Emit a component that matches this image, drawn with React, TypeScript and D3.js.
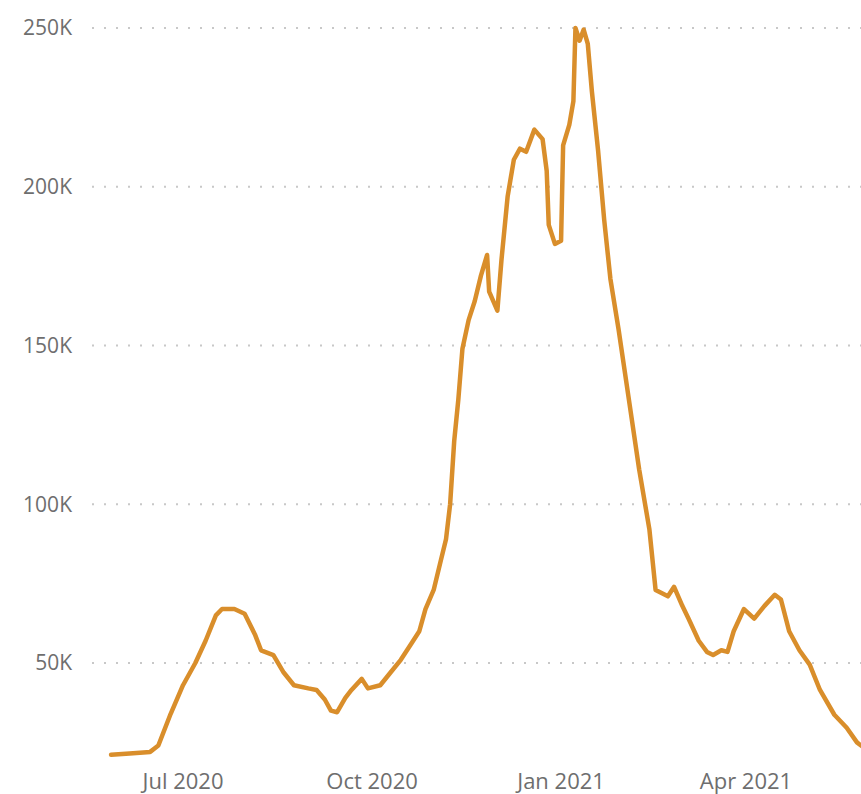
import React from "react";
import * as d3 from "d3";

const dates: string[] = [
  "2020-05-27","2020-06-05","2020-06-15","2020-06-19","2020-06-25","2020-07-01","2020-07-07","2020-07-12",
  "2020-07-17","2020-07-20","2020-07-26","2020-07-31","2020-08-05","2020-08-08","2020-08-14","2020-08-19",
  "2020-08-24","2020-08-31","2020-09-04","2020-09-08","2020-09-11","2020-09-14","2020-09-18","2020-09-21",
  "2020-09-26","2020-09-29","2020-10-05","2020-10-10","2020-10-15","2020-10-20","2020-10-24","2020-10-27",
  "2020-10-31","2020-11-03","2020-11-06","2020-11-08","2020-11-10","2020-11-12","2020-11-14","2020-11-17",
  "2020-11-20","2020-11-23","2020-11-26","2020-11-27","2020-12-01","2020-12-03","2020-12-06","2020-12-09",
  "2020-12-12","2020-12-15","2020-12-19","2020-12-23","2020-12-25","2020-12-26","2020-12-29","2021-01-01",
  "2021-01-02","2021-01-05","2021-01-07","2021-01-08","2021-01-10","2021-01-12","2021-01-14","2021-01-16",
  "2021-01-19","2021-01-22","2021-01-25","2021-01-29","2021-02-03","2021-02-08","2021-02-13","2021-02-16",
  "2021-02-22","2021-02-25","2021-03-01","2021-03-04","2021-03-09","2021-03-13","2021-03-16","2021-03-20",
  "2021-03-23","2021-03-26","2021-03-31","2021-04-05","2021-04-10","2021-04-15","2021-04-18","2021-04-22",
  "2021-04-27","2021-05-02","2021-05-07","2021-05-14","2021-05-20","2021-05-25","2021-05-29"
];

const cases: number[] = [
  21100,21500,22000,24000,34000,43000,50000,57000,
  65000,67000,67000,65500,59000,54000,52500,47000,
  43000,42000,41500,38500,35000,34500,39000,41500,
  45000,42000,43000,47000,51000,56000,60000,67000,
  73000,81000,89000,100000,120000,133000,149000,158000,
  164000,172000,178500,167000,161000,177000,197000,208500,
  212000,211000,218000,215000,205000,188000,182000,183000,
  213000,219500,227000,250000,246000,249500,245000,230000,
  211500,189500,171000,155000,133000,111000,92000,73000,
  71000,74000,68000,64000,57000,53500,52500,54000,
  53500,60000,67000,64000,68000,71500,70000,60000,
  54000,49500,41500,33700,29600,25000,23000
];

const yTicks: number[] = [50000, 100000, 150000, 200000, 250000];
const xTicks: string[] = ["2020-07-01", "2020-10-01", "2021-01-01", "2021-04-01"];
const xTickLabels: string[] = ["Jul 2020", "Oct 2020", "Jan 2021", "Apr 2021"];

export default function App() {
  const W = 861, H = 794;
  const parse = d3.timeParse("%Y-%m-%d");
  const data = dates.map((d, i) => ({ date: parse(d)!, v: cases[i] }));

  const x = d3.scaleTime()
    .domain([parse("2020-07-01")!, parse("2021-04-01")!])
    .range([183, 746]);
  const y = d3.scaleLinear().domain([50000, 250000]).range([663, 28]);

  const line = d3.line<{ date: Date; v: number }>()
    .x(d => x(d.date))
    .y(d => y(d.v))
    .curve(d3.curveLinear);

  const font = "'Open Sans', 'Noto Sans', sans-serif";
  const fmt = (t: number) => `${t / 1000}K`;

  return (
    <svg width={W} height={H} style={{ position: "absolute", left: 0, top: 0, background: "#fff" }}>
      <rect x={0} y={0} width={W} height={H} fill="#fff" />
      {yTicks.map(t => (
        <g key={t}>
          <line x1={92} x2={W} y1={y(t)} y2={y(t)} stroke="#c8c8c8" strokeWidth={2}
            strokeDasharray="2,10" />
          <text x={72} y={y(t)} dy="0.35em" textAnchor="end" fontFamily={font} fontSize={21} fill="#6e6e6e">
            {fmt(t)}
          </text>
        </g>
      ))}
      {xTicks.map((t, i) => (
        <text key={t} x={x(parse(t)!)} y={789} textAnchor="middle" fontFamily={font} fontSize={22} fill="#6e6e6e">
          {xTickLabels[i]}
        </text>
      ))}
      <path d={line(data) || ""} fill="none" stroke="#D98E2B" strokeWidth={4.5}
        strokeLinejoin="round" strokeLinecap="round" />
    </svg>
  );
}
